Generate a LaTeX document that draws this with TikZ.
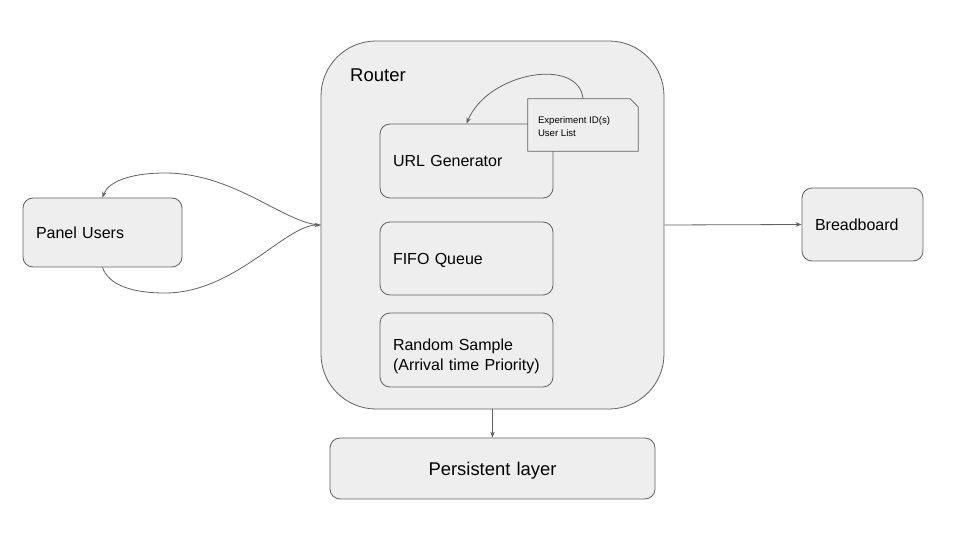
\documentclass[tikz,border=0pt]{standalone}
\usepackage{fontspec}
\setmainfont{Liberation Sans}
\usetikzlibrary{arrows.meta}

\colorlet{edgegray}{black!62}
\definecolor{boxfill}{HTML}{EEEEEE}

\tikzset{
  box/.style={draw=edgegray, fill=boxfill, line width=0.8pt, rounded corners=10pt,
    text width=#1, inner xsep=13pt, inner ysep=0pt, align=left,
    font=\fontsize{16}{19}\selectfont},
  oneline/.style={text depth=0pt},
  flow/.style={draw=edgegray, line width=0.8pt, -{Stealth[length=6pt,width=4.5pt]}},
}

\begin{document}
\begin{tikzpicture}[x=1pt, y=-1pt]
  \useasboundingbox (0,0) rectangle (960,540);

  %--- Router container ---
  \node[draw=edgegray, fill=boxfill, line width=0.8pt, rounded corners=55pt,
        minimum width=343pt, minimum height=368pt] (router) at (492.5,225) {};
  \node[anchor=west, inner sep=0pt, font=\fontsize{18.5}{22}\selectfont] (routerlbl) at (350,75) {Router};

  %--- inner stages ---
  \node[box=147pt, oneline, minimum height=74pt] (urlgen) at (466.5,161)   {URL Generator};
  \node[box=147pt, oneline, minimum height=73pt] (fifo)   at (466.5,258.5) {FIFO Queue};
  \node[box=147pt, text depth=10pt, minimum height=74pt, font=\fontsize{16}{19.5}\selectfont]
    (sample) at (466.5,350) {Random Sample\\(Arrival time Priority)};

  %--- note with folded corner ---
  \node[minimum width=110pt, minimum height=52pt] (note) at (583,125) {};
  \filldraw[fill=boxfill, draw=edgegray, line width=0.8pt]
    (note.north west) -- ([xshift=-8pt]note.north east) -- ([yshift=-8pt]note.north east)
    -- (note.south east) -- (note.south west) -- cycle;
  \node[anchor=west, align=left, inner sep=0pt, font=\fontsize{9.6}{13}\selectfont] (notetxt)
    at ([xshift=10pt,yshift=-2pt]note.west) {Experiment ID(s)\\User List};

  %--- outside boxes ---
  \node[box=133pt, oneline, minimum height=69pt] (panel)  at (102.5,232.5) {Panel Users};
  \node[box=95pt, oneline, minimum height=73pt] (bboard) at (862.5,224.5) {Breadboard};
  \node[box=299pt, oneline, minimum height=61pt, align=center, font=\fontsize{18.4}{22}\selectfont]
    (persist) at (492.5,468.5) {Persistent layer};

  %--- connectors ---
  \draw[flow] (note.north) .. controls +(-4,-42) and +(22,-52) .. (urlgen.north);
  \draw[flow] (router.west) .. controls (285,224) and (235,173) .. (165,173)
    .. controls (130,173) and (108,182) .. (panel.north);
  \draw[flow] (panel.south) .. controls (108,284) and (130,293) .. (165,293)
    .. controls (235,293) and (285,225) .. (router.west);
  \draw[flow] (router.east) -- (bboard.west);
  \draw[flow] (router.south) -- (persist.north);

\end{tikzpicture}
\end{document}
